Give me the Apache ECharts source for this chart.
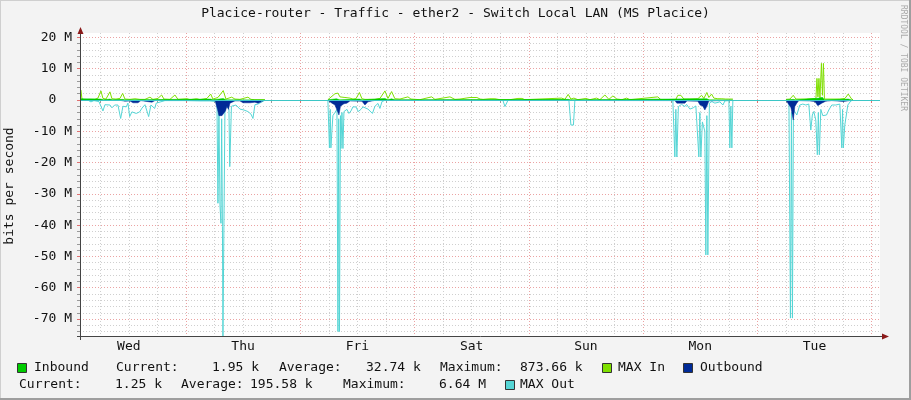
<!DOCTYPE html>
<html><head><meta charset="utf-8">
<script src="https://cdn.jsdelivr.net/npm/echarts@6/dist/echarts.min.js"></script>
<style>html,body{margin:0;padding:0;background:#f3f3f3}#c{width:911px;height:400px}</style>
</head><body><div id="c"></div>
<script>
// ---- data (x = hours since Wed 00:00, y = Mbit/s) ----
const dayLabels = ['Wed','Thu','Fri','Sat','Sun','Mon','Tue'];
const dayLabelHours = [12,36,60,84,108,132,156];
const yTickLabels = [20,10,0,-10,-20,-30,-40,-50,-60,-70];

const maxIn = [[1.95,3.2],[2.16,0.3],[2.79,0.1],[3.84,0.2],[4.26,0.6],[4.89,0.2],[5.52,0.6],[6.15,2.9],[6.57,0.5],[7.20,0.3],[8.04,2.6],[8.46,0.4],[9.30,0.3],[10.14,0.5],[10.71,2.1],[11.19,0.3],[12.24,0.2],[13.29,0.4],[14.34,0.2],[15.39,0.2],[16.44,0.9],[17.07,0.2],[18.12,0.5],[18.89,1.6],[19.38,0.3],[20.64,0.2],[21.69,1.6],[22.32,0.2],[24.21,0.4],[24.84,0.1],[26.25,0.4],[26.94,0.1],[28.41,0.5],[29.19,1.9],[29.67,0.3],[30.72,0.8],[31.83,3.0],[32.40,0.3],[33.60,0.9],[34.29,0.3],[35.34,0.2],[37.02,0.9],[37.65,0.2],[38.49,0.1],[40.59,0.1],[47,null],
[53.81,0.1],[54.23,0.5],[55.29,2.0],[55.92,2.2],[56.34,1.0],[57.39,0.8],[58.44,0.6],[59.07,0.3],[59.70,0.4],[60.43,2.4],[60.96,0.4],[61.59,0.2],[63.69,0.2],[64.74,0.5],[65.79,2.9],[66.42,0.5],[67.19,2.7],[67.88,0.4],[68.94,0.3],[70.62,1.0],[71.25,0.3],[73.14,0.1],[75.59,1.0],[76.29,0.2],[79.44,1.0],[80.49,0.2],[81.54,0.3],[83.64,0.8],[85.10,0.8],[85.78,0.3],[86.4,0.2],[87.84,0.4],[88.89,0.4],[89.94,0.1],[92.04,0.1],[93.72,0.5],[94.56,0.5],[95.19,0.1],[102.88,0.6],[103.58,0.2],[104.27,1.8],[104.84,0.3],[105.47,0.6],[106.31,0.1],[107.99,0.5],[108.83,0.1],[110.24,0.6],[110.93,0.1],[111.98,1.6],[112.82,0.2],[113.66,1.3],[114.50,0.3],[115.55,0.1],[116.54,0.6],[117.23,0.1],[123.10,1.0],[123.73,0.1],[126.88,0.2],[127.30,1.5],[127.93,1.5],[128.56,0.3],[129.82,0.3],[131.50,0.4],[132.28,1.5],[132.76,0.5],[133.39,2.4],[133.81,0.8],[134.38,1.9],[134.86,0.6],[135.70,0.4],[136.54,0.4],[137.38,0.3],[138.22,0.3],[138.85,0.3],[144,null],
[150.0,0.2],[150.84,0.3],[151.53,1.5],[152.10,0.3],[153.99,0.3],[155.46,0.4],[156.30,0.5],[156.51,6.9],[156.72,1.0],[156.93,6.9],[157.14,0.6],[157.45,11.7],[157.66,1.5],[157.87,11.7],[158.08,0.3],[159.24,0.3],[161.34,0.3],[162.39,0.5],[163.08,1.9],[163.80,0.3],[164.07,0.1]];

const inbound = [[1.95,0.4],[2.2,0.05],[6.15,0.3],[6.6,0.05],[8.04,0.3],[8.5,0.05],[10.71,0.2],[11.2,0.05],[29.19,0.3],[29.7,0.05],[31.83,0.5],[32.4,0.05],[40.59,0.05],[47,null],
[53.81,0.05],[55.6,0.4],[56.3,0.05],[60.43,0.3],[61,0.05],[65.79,0.5],[66.42,0.05],[67.19,0.4],[67.88,0.05],[104.27,0.2],[104.8,0.05],[133.39,0.4],[133.9,0.05],[138.85,0.05],[144,null],
[150,0.05],[151.53,0.2],[152.1,0.05],[157.03,0.6],[157.24,0.1],[157.66,0.87],[158.08,0.05],[163.08,0.3],[163.8,0.05],[164.07,0.05]];

const outbound = [[1.95,-0.05],[10.14,-0.1],[11.19,-0.4],[12.24,-0.3],[12.87,-0.9],[13.92,-0.9],[14.55,-0.2],[15.39,-0.4],[16.86,-0.7],[17.49,-0.2],[18.54,-0.1],[30.09,-0.1],[30.62,-3.0],[30.93,-5.0],[31.56,-5.0],[31.98,-5.3],[32.30,-3.5],[32.61,-2.0],[32.93,-3.0],[33.24,-1.0],[33.66,-0.4],[34.29,-0.3],[35.34,-0.3],[35.97,-0.9],[37.44,-0.9],[38.49,-0.7],[39.12,-1.0],[39.96,-0.5],[40.38,-0.1],[47,null],
[53.81,-0.1],[54.65,-1.0],[55.29,-1.6],[55.71,-2.1],[56.13,-4.8],[56.45,-2.0],[56.76,-2.3],[57.18,-1.2],[57.81,-1.0],[58.44,-0.3],[60.96,-0.4],[61.59,-1.6],[62.22,-0.6],[63.06,-0.3],[63.90,-0.1],[126.67,-0.2],[127.09,-1.0],[128.78,-1.0],[129.20,-0.3],[131.50,-0.4],[131.92,-1.5],[132.55,-2.0],[132.97,-3.2],[133.39,-2.0],[133.81,-0.3],[138.85,-0.1],[144,null],
[150.0,-0.1],[150.63,-1.5],[151.05,-2.5],[151.53,-6.4],[151.86,-2.1],[152.28,-1.0],[152.70,-0.2],[155.01,-0.3],[156.06,-0.5],[156.69,-1.8],[157.11,-2.1],[157.53,-1.0],[158.36,-0.4],[158.78,-0.5],[159.63,-0.2],[162.05,-0.5],[162.47,-0.1],[164.07,-0.05]];

const maxOut = [[1.95,-0.1],[3.44,-0.1],[4.05,-0.6],[4.68,-0.2],[5.73,-0.5],[6.57,-3.5],[6.99,-1.5],[7.41,-1.3],[8.04,-1.6],[8.46,-2.5],[9.03,-1.6],[9.72,-1.6],[10.29,-5.9],[10.77,-2.0],[11.46,-2.2],[11.82,-1.0],[12.18,-5.3],[12.66,-3.8],[13.08,-3.3],[13.56,-4.3],[14.28,-3.8],[14.76,-2.6],[15.39,-1.5],[16.17,-5.3],[16.65,-1.6],[17.43,-2.7],[17.76,-1.0],[18.12,-0.4],[19.59,-0.2],[21.69,-0.2],[23.79,-0.2],[26.94,-0.3],[29.04,-0.3],[30.51,-0.5],[30.72,-33.0],[30.93,-4.0],[31.14,-33.5],[31.35,-39.4],[31.50,-6.0],[31.66,-40.5],[31.77,-76],[31.98,-76],[32.19,-3.0],[32.61,-2.0],[33.03,-3.0],[33.20,-21.3],[33.41,-21.3],[33.55,-2.0],[33.87,-1.6],[34.50,-1.6],[35.34,-2.9],[36.18,-3.2],[37.02,-3.7],[37.65,-4.5],[38.07,-5.9],[38.49,-1.5],[39.12,-1.3],[39.96,-0.6],[40.38,-0.1],[40.59,-0.1],[47,null],
[53.81,-0.2],[54.02,-0.5],[54.13,-15.3],[54.30,-3.0],[54.44,-15.3],[54.65,-10],[54.86,-5],[55.29,-4],[55.71,-3],[55.92,-74],[56.08,-6.0],[56.24,-74],[56.45,-5],[56.55,-15.5],[56.76,-4.0],[56.97,-15.5],[57.18,-3.7],[57.81,-3.0],[58.23,-4.3],[58.65,-3.5],[59.07,-2.2],[59.70,-2.2],[60.18,-3.7],[60.75,-3.0],[61.17,-2.2],[61.59,-2.7],[62.22,-2.9],[62.64,-3.0],[63.16,-4.3],[63.69,-2.0],[64.32,-1.1],[64.74,-2.7],[65.16,-0.5],[65.79,-0.1],[90.56,-0.1],[90.99,-2.1],[91.41,-2.1],[91.62,-0.1],[104.42,-0.1],[104.84,-8.0],[105.37,-8.0],[105.68,-0.1],[126.25,-0.1],[126.67,-18.2],[126.88,-3.0],[127.09,-18.2],[127.41,-2.1],[128.08,-1.4],[128.78,-2.1],[129.13,-1.4],[129.82,-2.9],[130.52,-2.5],[131.08,-1.9],[131.50,-2.5],[131.71,-18.2],[131.92,-4.0],[132.13,-18.2],[132.45,-7.0],[132.66,-7.0],[132.97,-10],[133.18,-49.5],[133.39,-5.0],[133.60,-49.5],[133.92,-1.0],[134.45,-0.5],[135.08,-1.0],[136.13,-0.6],[136.76,-1.6],[137.18,-0.3],[138.02,-0.2],[138.22,-15.3],[138.43,-2.0],[138.64,-15.3],[138.85,-0.2],[144,null],
[150.0,-0.2],[150.63,-0.5],[150.94,-69.7],[151.15,-4.0],[151.36,-69.7],[151.57,-3.0],[151.86,-3.0],[152.28,-4.8],[152.91,-1.6],[153.54,-1.3],[154.17,-1.6],[154.80,-1.3],[155.22,-9.6],[155.54,-4.8],[155.85,-3.7],[156.27,-6.4],[156.59,-17.5],[156.80,-4.0],[157.01,-17.5],[157.32,-3.0],[157.74,-5.0],[158.52,-4.8],[159.00,-3.2],[159.63,-1.6],[160.47,-1.6],[160.89,-2.2],[161.31,-1.3],[161.73,-15.3],[161.89,-3.0],[162.05,-15.3],[162.36,-8.0],[162.68,-8.0],[163.00,-1.6],[163.63,-0.3],[164.07,-0.1]];

// ---- layout / style ----
const FONT = 'DejaVu Sans Mono';
const X_MIN = 1.75, X_MAX = 169.75, Y_MIN = -75.42, Y_MAX = 21.41;
const minorX = [], majorX = [], minorY = [], majorY = [];
for (let h = 6; h <= 168; h += 6) { if (h % 24 === 0) majorX.push(h); else minorX.push(h); }
for (let v = -74; v <= 20; v += 2) { if (v % 10 === 0) majorY.push(v); else minorY.push(v); }
const gap = d => d.map(p => p[1] === null ? [p[0], '-'] : p);

const C_IN = '#00cc00', C_MAXIN = '#7fe000';
const C_OUT = '#002a97', C_MAXOUT = '#55d5d5';

const chart = echarts.init(document.getElementById('c'), null, {renderer: 'canvas'});

function txt(x, y, s) {
  return {type: 'text', x: x, y: y, style: {text: s, font: '13px ' + FONT, fill: '#111', textVerticalAlign: 'middle'}};
}
function box(x, y, color) {
  return {type: 'rect', shape: {x: x + 0.5, y: y + 0.5, width: 9, height: 9}, style: {fill: color, stroke: '#333', lineWidth: 1}};
}

const graphics = [
  {type: 'rect', shape: {x: 0, y: 0, width: 911, height: 400}, style: {fill: 'none', stroke: '#cfcfcf', lineWidth: 2}, z: 100},
  {type: 'line', shape: {x1: 910, y1: 0, x2: 910, y2: 400}, style: {stroke: '#9e9e9e', lineWidth: 2}, z: 101},
  {type: 'line', shape: {x1: 0, y1: 399, x2: 911, y2: 399}, style: {stroke: '#9e9e9e', lineWidth: 2}, z: 101},
  {type: 'text', x: 455.5, y: 14, style: {text: 'Placice-router - Traffic - ether2 - Switch Local LAN (MS Placice)', font: '13px ' + FONT, fill: '#111', textAlign: 'center', textVerticalAlign: 'middle'}},
  {type: 'text', x: 10, y: 186, rotation: Math.PI / 2, style: {text: 'bits per second', font: '13px ' + FONT, fill: '#111', textAlign: 'center', textVerticalAlign: 'middle'}},
  {type: 'text', x: 903, y: 5, rotation: -Math.PI / 2, style: {text: 'RRDTOOL / TOBI OETIKER', font: '8px ' + FONT, fill: '#aaaaaa', textAlign: 'left', textVerticalAlign: 'middle'}},
  {type: 'line', shape: {x1: 80.5, y1: 30, x2: 80.5, y2: 340}, style: {stroke: '#444', lineWidth: 1}, z: 50},
  {type: 'line', shape: {x1: 77, y1: 336.5, x2: 884, y2: 336.5}, style: {stroke: '#444', lineWidth: 1}, z: 50},
  {type: 'polygon', shape: {points: [[77.5, 34], [83.5, 34], [80.5, 27]]}, style: {fill: '#8b1a1a'}, z: 51},
  {type: 'polygon', shape: {points: [[882, 333.5], [882, 339.5], [889, 336.5]]}, style: {fill: '#8b1a1a'}, z: 51},
  box(17, 363, C_IN), txt(34, 368, 'Inbound'), txt(116, 368, 'Current:'), txt(212, 368, '1.95 k'),
  txt(279, 368, 'Average:'), txt(366, 368, '32.74 k'), txt(440, 368, 'Maximum:'), txt(520, 368, '873.66 k'),
  box(602, 363, C_MAXIN), txt(618, 368, 'MAX In'), box(683, 363, C_OUT), txt(700, 368, 'Outbound'),
  txt(19, 385, 'Current:'), txt(115, 385, '1.25 k'), txt(181, 385, 'Average:'), txt(250, 385, '195.58 k'),
  txt(343, 385, 'Maximum:'), txt(439, 385, '6.64 M'), box(505, 380, C_MAXOUT), txt(520, 385, 'MAX Out')
];

const baseX = {type: 'value', min: X_MIN, max: X_MAX, position: 'bottom', axisLine: {show: false}};
const baseY = {type: 'value', min: Y_MIN, max: Y_MAX, position: 'left', axisLine: {show: false}};

chart.setOption({
  animation: false,
  backgroundColor: '#f3f3f3',
  grid: {left: 80, top: 33, width: 800, height: 303, show: true, backgroundColor: '#ffffff', borderWidth: 0, containLabel: false},
  xAxis: [
    Object.assign({}, baseX, {
      axisTick: {show: true, customValues: minorX, length: 3, lineStyle: {color: '#999'}},
      axisLabel: {show: true, customValues: dayLabelHours, formatter: v => dayLabels[dayLabelHours.indexOf(Math.round(v))] || '', fontFamily: FONT, fontSize: 13, color: '#111', margin: 4},
      splitLine: {show: true, lineStyle: {color: '#cfcfcf', type: [1, 2], width: 1}}
    }),
    Object.assign({}, baseX, {
      axisTick: {show: true, customValues: majorX, length: 3, lineStyle: {color: '#e07070'}},
      axisLabel: {show: false},
      splitLine: {show: true, lineStyle: {color: '#eba3a3', type: [1, 2], width: 1}}
    })
  ],
  yAxis: [
    Object.assign({}, baseY, {
      axisTick: {show: true, customValues: minorY, length: 3, lineStyle: {color: '#999'}},
      axisLabel: {show: true, customValues: yTickLabels, formatter: v => (Math.round(v) === 0 ? '0  ' : Math.round(v) + ' M'), fontFamily: FONT, fontSize: 13, color: '#111', margin: 8},
      splitLine: {show: true, lineStyle: {color: '#cfcfcf', type: [1, 2], width: 1}}
    }),
    Object.assign({}, baseY, {
      axisTick: {show: true, customValues: majorY, length: 3, lineStyle: {color: '#e07070'}},
      axisLabel: {show: false},
      splitLine: {show: true, lineStyle: {color: '#eba3a3', type: [1, 2], width: 1}}
    })
  ],
  graphic: graphics,
  series: [
    {type: 'line', name: 'MAX Out', data: gap(maxOut), symbol: 'none', connectNulls: false, silent: true,
     lineStyle: {color: C_MAXOUT, width: 1}, z: 3},
    {type: 'line', name: 'Outbound', data: gap(outbound), symbol: 'none', connectNulls: false, silent: true,
     lineStyle: {color: C_OUT, width: 0.5}, areaStyle: {color: C_OUT, opacity: 1, origin: 'auto'}, z: 4},
    {type: 'line', name: 'MAX In', data: gap(maxIn), symbol: 'none', connectNulls: false, silent: true,
     lineStyle: {color: C_MAXIN, width: 1}, z: 5},
    {type: 'line', name: 'Inbound', data: gap(inbound), symbol: 'none', connectNulls: false, silent: true,
     lineStyle: {color: C_IN, width: 0.5}, areaStyle: {color: C_IN, opacity: 1, origin: 'auto'}, z: 6,
     markLine: {silent: true, symbol: 'none', label: {show: false}, lineStyle: {color: '#3cc6c6', type: 'solid', width: 1}, data: [{yAxis: 0}], z: 10}}
  ]
});
</script></body></html>
